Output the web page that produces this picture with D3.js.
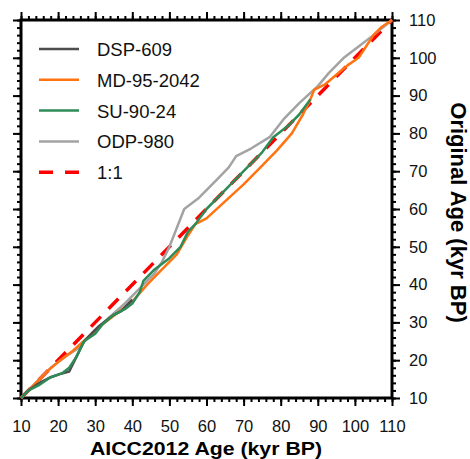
<!DOCTYPE html>
<html>
<head>
<meta charset="utf-8">
<script src="https://cdn.jsdelivr.net/npm/d3@7"></script>
<style>
  body { margin: 0; background: #fff; }
  text { font-family: "Liberation Sans", Arial, sans-serif; }
</style>
</head>
<body>
<div id="chart"></div>
<script>
// series values: [AICC2012 age, original age]
const dsp609 = [[10, 10], [12, 12], [15, 14], [18, 15.5], [21, 16.5], [23, 17], [25, 21], [27, 25],
  [29, 27], [31, 29], [33, 30.5], [35, 32], [37, 33], [39, 35], [40, 36]];
const md952042 = [[10, 10], [13, 13], [17, 17], [20, 19.5], [24, 22.5], [28, 26], [32, 29.5], [36, 32.5],
  [40, 35.5], [44, 40], [48, 44], [52, 48], [55, 53], [57, 56], [60, 57.5], [65, 62], [70, 66.5],
  [75, 71.5], [79, 75.5], [83, 80], [86, 85], [88, 89], [89, 91.5], [92, 93], [95, 95.5], [98, 98],
  [101, 100], [103, 103], [105, 106], [107, 108], [110, 110]];
const su9024 = [[10, 10], [12, 12], [15, 13.5], [18, 15.5], [21, 16.5], [23, 18], [25, 21], [27, 25],
  [30, 27], [32, 29.5], [35, 32], [38, 33.5], [40, 35], [42, 38], [43, 41], [46, 44], [50, 47],
  [53, 50], [55, 54], [57, 56], [60, 60], [65, 65], [70, 70], [75, 75], [78, 79], [82, 82],
  [85, 85], [88, 89]];
const odp980 = [[10, 10], [14, 14], [18, 18], [22, 21], [26, 23.5], [28, 26], [30, 28], [34, 31.5],
  [38, 35], [42, 39], [46, 43], [48, 46], [50, 50], [54, 60], [58, 63], [61, 66], [63, 68],
  [66, 71], [68, 74], [72, 76], [77, 79], [81, 84], [85, 88], [90, 92.5], [93, 96], [97, 100],
  [101, 103], [105, 106], [110, 110]];
const oneToOne = [[10, 10], [110, 110]];

const seriesNames = ['DSP-609', 'MD-95-2042', 'SU-90-24', 'ODP-980', '1:1'];
const seriesData = [dsp609, md952042, su9024, odp980, oneToOne];
const seriesColors = ['#4d4d4d', '#ff7311', '#2e8b57', '#a3a3a3', '#ff0000'];
const ticks = [10, 20, 30, 40, 50, 60, 70, 80, 90, 100, 110];

const W = 470, H = 459;
const margin = { top: 20, right: 78, bottom: 61, left: 21 };

const svg = d3.select('#chart').append('svg')
  .attr('width', W)
  .attr('height', H);

const x = d3.scaleLinear().domain([10, 110]).range([margin.left, W - margin.right]);
const y = d3.scaleLinear().domain([10, 110]).range([H - margin.bottom, margin.top]);

const minorTicks = d3.range(10, 110.1, 2);

const bottomY = y(10), topY = y(110), leftX = x(10), rightX = x(110);

// ticks on all four sides (minor every 2, major every 10), labels only bottom and right
const sides = [
  { fn: d3.axisBottom, scale: x, transform: `translate(0,${bottomY})`, labels: true, pad: 14 },
  { fn: d3.axisTop, scale: x, transform: `translate(0,${topY})`, labels: false, pad: 6 },
  { fn: d3.axisLeft, scale: y, transform: `translate(${leftX},0)`, labels: false, pad: 6 },
  { fn: d3.axisRight, scale: y, transform: `translate(${rightX},0)`, labels: true, pad: 9 }
];

sides.forEach(s => {
  const minor = s.fn(s.scale).tickValues(minorTicks).tickSize(4).tickFormat('');
  const major = s.fn(s.scale).tickValues(ticks).tickSize(8).tickPadding(s.pad);
  if (!s.labels) major.tickFormat('');
  const gMin = svg.append('g').attr('transform', s.transform).call(minor);
  const gMaj = svg.append('g').attr('transform', s.transform).call(major);
  [gMin, gMaj].forEach(g => {
    g.select('.domain').remove();
    g.selectAll('line').attr('stroke', '#000').attr('stroke-width', 2);
  });
  gMaj.selectAll('text')
    .attr('font-size', 16.5)
    .attr('fill', '#111')
    .style('font-family', '"Liberation Sans", Arial, sans-serif');
});

// frame
svg.append('rect')
  .attr('x', leftX).attr('y', topY)
  .attr('width', rightX - leftX).attr('height', bottomY - topY)
  .attr('fill', 'none').attr('stroke', '#000').attr('stroke-width', 3);

const line = d3.line().x(d => x(d[0])).y(d => y(d[1]));

// 1:1 underneath, then the cores
const drawOrder = [4, 3, 1, 0, 2];
drawOrder.forEach(i => {
  svg.append('path')
    .datum(seriesData[i])
    .attr('d', line)
    .attr('fill', 'none')
    .attr('stroke', seriesColors[i])
    .attr('stroke-width', i === 4 ? 3.5 : 2.5)
    .attr('stroke-linejoin', 'round')
    .attr('stroke-dasharray', i === 4 ? '14,11' : null);
});

// legend
const legend = svg.append('g');
seriesNames.forEach((name, i) => {
  const ly = 49 + i * 30.8;
  legend.append('line')
    .attr('x1', 39).attr('x2', 79).attr('y1', ly).attr('y2', ly)
    .attr('stroke', seriesColors[i])
    .attr('stroke-width', i === 4 ? 3.5 : 2.5)
    .attr('stroke-dasharray', i === 4 ? '14,12' : null);
  legend.append('text')
    .attr('x', 97).attr('y', ly + 7)
    .attr('font-size', 18.5)
    .attr('fill', '#111')
    .text(name);
});

// axis titles
svg.append('text')
  .attr('transform', 'translate(206,455) scale(1.12,1)')
  .attr('text-anchor', 'middle')
  .attr('font-size', 19)
  .attr('font-weight', 'bold')
  .text('AICC2012 Age (kyr BP)');

svg.append('text')
  .attr('transform', 'translate(451,212.5) rotate(90)')
  .attr('text-anchor', 'middle')
  .attr('font-size', 22)
  .attr('font-weight', 'bold')
  .text('Original Age (kyr BP)');
</script>
</body>
</html>
